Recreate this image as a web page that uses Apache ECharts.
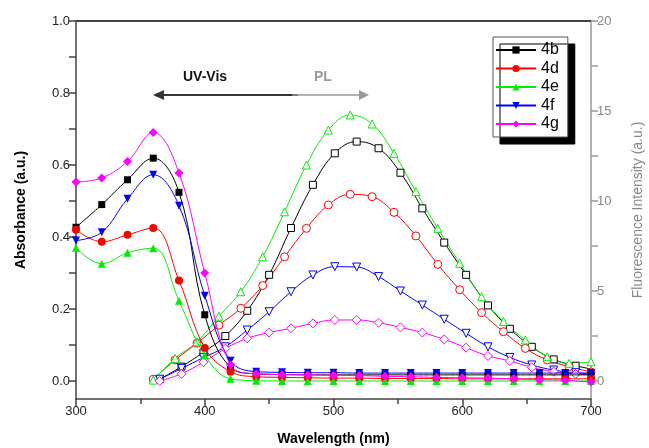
<!DOCTYPE html>
<html>
<head>
<meta charset="utf-8">
<script src="https://cdn.jsdelivr.net/npm/echarts@6/dist/echarts.min.js"></script>
<style>
  html, body { margin: 0; padding: 0; background: #fff; }
  #main { width: 649px; height: 448px; }
</style>
</head>
<body>
<div id="main"></div>
<script>
// absorbance, every 20 nm
var absX = [300, 320, 340, 360, 380, 400, 420, 440, 460, 480, 500, 520, 540, 560, 580, 600, 620, 640, 660, 680, 700];
var abs4b = [0.427, 0.49, 0.559, 0.619, 0.524, 0.184, 0.038, 0.02, 0.018, 0.017, 0.017, 0.017, 0.017, 0.017, 0.017, 0.017, 0.017, 0.017, 0.017, 0.017, 0.017];
var abs4d = [0.42, 0.387, 0.406, 0.425, 0.279, 0.092, 0.026, 0.012, 0.01, 0.009, 0.008, 0.008, 0.007, 0.007, 0.007, 0.006, 0.006, 0.006, 0.006, 0.006, 0.006];
var abs4e = [0.37, 0.326, 0.356, 0.369, 0.223, 0.072, 0.006, 0.001, 0.0, 0.0, 0.0, 0.0, 0.0, 0.0, 0.0, 0.0, 0.0, 0.0, 0.0, 0.0, 0.0];
var abs4f = [0.39, 0.413, 0.506, 0.573, 0.487, 0.237, 0.056, 0.026, 0.024, 0.023, 0.023, 0.022, 0.022, 0.022, 0.022, 0.022, 0.022, 0.022, 0.022, 0.022, 0.022];
var abs4g = [0.553, 0.564, 0.61, 0.69, 0.578, 0.30, 0.045, 0.02, 0.018, 0.017, 0.016, 0.015, 0.013, 0.012, 0.01, 0.009, 0.008, 0.006, 0.004, 0.002, -0.003];

// fluorescence, every 17 nm (two slightly different starting points)
var plXa = [360, 377, 394, 411, 428, 445, 462, 479, 496, 513, 530, 547, 564, 581, 598, 615, 632, 649, 666, 683, 700];
var plXb = [365, 382, 399, 416, 433, 450, 467, 484, 501, 518, 535, 552, 569, 586, 603, 620, 637, 654, 671, 688, 705];
var pl4b = [0.1, 0.8, 1.6, 2.5, 3.9, 5.9, 8.5, 10.9, 12.65, 13.3, 12.93, 11.57, 9.59, 7.69, 5.9, 4.2, 2.9, 1.9, 1.2, 0.85, 0.6];
var pl4d = [0.1, 1.17, 2.1, 3.1, 4.04, 5.3, 6.9, 8.48, 9.78, 10.37, 10.24, 9.37, 8.06, 6.48, 5.07, 3.8, 2.74, 1.81, 1.17, 0.8, 0.5];
var pl4e = [0.05, 1.26, 2.18, 3.6, 4.96, 6.9, 9.4, 12.0, 13.94, 14.78, 14.28, 12.65, 10.52, 8.48, 6.54, 4.68, 3.3, 2.28, 1.35, 0.98, 1.07];
var pl4f = [0.1, 0.7, 1.3, 1.9, 2.83, 3.85, 4.96, 5.89, 6.35, 6.33, 5.8, 5.0, 4.22, 3.43, 2.65, 1.9, 1.31, 0.89, 0.61, 0.46, 0.39];
var pl4g = [0.0, 0.4, 1.05, 1.8, 2.37, 2.69, 2.93, 3.2, 3.39, 3.39, 3.24, 2.98, 2.69, 2.31, 1.85, 1.39, 1.11, 0.76, 0.52, 0.39, 0.33];

var absTicks = [0, 0.1, 0.2, 0.3, 0.4, 0.5, 0.6, 0.7, 0.8, 0.9, 1.0];
var absLabels = [0, 0.2, 0.4, 0.6, 0.8, 1.0];
var plTicks = [0, 2.5, 5, 7.5, 10, 12.5, 15, 17.5, 20];
var plLabels = [0, 5, 10, 15, 20];

var names = ['4b', '4d', '4e', '4f', '4g'];
var colors = ['#000000', '#ff0000', '#00ee00', '#0000ff', '#ff00ff'];
var symbols = ['rect', 'circle', 'triangle', 'triangle', 'diamond'];
var rotates = [0, 0, 0, 180, 0];
var sizes = [7, 8, 8, 8, 9];

function pairs(xs, ys) {
  return xs.map(function (x, i) { return [x, ys[i]]; });
}

var absData = [abs4b, abs4d, abs4e, abs4f, abs4g];
var plData = [pl4b, pl4d, pl4e, pl4f, pl4g];
var plXs = [plXb, plXa, plXa, plXb, plXb];

var font = 'Arial, "Liberation Sans", sans-serif';
var myChart = echarts.init(document.getElementById('main'));

var series = [];
for (var i = 0; i < 5; i++) {
  series.push({
    name: names[i] + ' PL',
    type: 'line',
    yAxisIndex: 1,
    smooth: 0.4,
    symbol: symbols[i],
    symbolRotate: rotates[i],
    symbolSize: sizes[i],
    data: pairs(plXs[i], plData[i]),
    lineStyle: { color: colors[i], width: 1 },
    itemStyle: { color: '#fff', borderColor: colors[i], borderWidth: 1, opacity: 1 },
    z: 2
  });
}
for (var j = 0; j < 5; j++) {
  series.push({
    name: names[j],
    type: 'line',
    yAxisIndex: 0,
    smooth: 0.4,
    symbol: symbols[j],
    symbolRotate: rotates[j],
    symbolSize: sizes[j],
    data: pairs(absX, absData[j]),
    lineStyle: { color: colors[j], width: 1 },
    itemStyle: { color: colors[j] },
    z: 3
  });
}

var option = {
  animation: false,
  textStyle: { fontFamily: font },
  grid: {
    left: 76, right: 58, top: 21, bottom: 49,
    outerBoundsMode: 'none', containLabel: false
  },
  legend: {
    data: names,
    orient: 'vertical',
    left: 493,
    top: 37,
    itemWidth: 40,
    itemHeight: 9,
    itemGap: 2.5,
    padding: [5, 9, 5, 2],
    backgroundColor: '#fff',
    borderColor: '#555',
    borderWidth: 1,
    borderRadius: 0,
    shadowColor: '#000',
    shadowBlur: 0,
    shadowOffsetX: 7,
    shadowOffsetY: 7,
    textStyle: { fontSize: 16, color: '#000', fontFamily: font }
  },
  xAxis: {
    type: 'value',
    min: 300,
    max: 700,
    interval: 100,
    name: 'Wavelength (nm)',
    nameLocation: 'middle',
    nameGap: 33,
    nameTextStyle: { fontSize: 14, fontWeight: 'bold', color: '#000' },
    axisLine: { onZero: false, lineStyle: { color: '#444', width: 1.5 } },
    axisTick: { inside: false, length: 7, lineStyle: { color: '#444', width: 1.5 } },
    minorTick: { show: true, splitNumber: 2, length: 5, lineStyle: { color: '#444', width: 1.5 } },
    axisLabel: { fontSize: 13, color: '#222', margin: 6 },
    splitLine: { show: false }
  },
  yAxis: [{
    type: 'value',
    min: -0.05,
    max: 1.0,
    name: 'Absorbance (a.u.)',
    nameLocation: 'middle',
    nameRotate: 90,
    nameGap: 48,
    nameTextStyle: { fontSize: 14, fontWeight: 'bold', color: '#000' },
    axisLine: { show: true, onZero: false, lineStyle: { color: '#444', width: 1.5 } },
    axisTick: { show: true, length: 7, customValues: absTicks, lineStyle: { color: '#444', width: 1.5 } },
    axisLabel: {
      fontSize: 13, color: '#222', margin: 6, customValues: absLabels,
      formatter: function (v) { return v.toFixed(1); }
    },
    splitLine: { show: false }
  }, {
    type: 'value',
    min: -1,
    max: 20,
    position: 'right',
    name: 'Fluorescence Intensity (a.u.)',
    nameLocation: 'middle',
    nameRotate: 90,
    nameGap: 40,
    nameTextStyle: { fontSize: 14, color: '#888' },
    axisLine: { show: true, onZero: false, lineStyle: { color: '#999', width: 1.5 } },
    axisTick: { show: true, length: 7, customValues: plTicks, lineStyle: { color: '#999', width: 1.5 } },
    axisLabel: { fontSize: 13, color: '#888', margin: 6, customValues: plLabels },
    splitLine: { show: false }
  }],
  graphic: [
    { type: 'text', left: 183, top: 70, style: { text: 'UV-Vis', fontSize: 14, fontWeight: 'bold', fill: '#111', fontFamily: font } },
    { type: 'line', shape: { x1: 162, y1: 95, x2: 298, y2: 95 }, style: { stroke: '#333', lineWidth: 2 } },
    { type: 'polygon', shape: { points: [[153, 95], [164, 90], [164, 100]] }, style: { fill: '#333' } },
    { type: 'text', left: 314, top: 70, style: { text: 'PL', fontSize: 14, fontWeight: 'bold', fill: '#999', fontFamily: font } },
    { type: 'line', shape: { x1: 292, y1: 95, x2: 360, y2: 95 }, style: { stroke: '#999', lineWidth: 1.5 } },
    { type: 'polygon', shape: { points: [[369, 95], [359, 90], [359, 100]] }, style: { fill: '#999' } },
    // top frame of the plot box
    { type: 'rect', shape: { x: 76, y: 20, width: 515, height: 2 }, style: { fill: '#444' }, z: 10 }
  ],
  series: series
};

myChart.setOption(option);
</script>
</body>
</html>
